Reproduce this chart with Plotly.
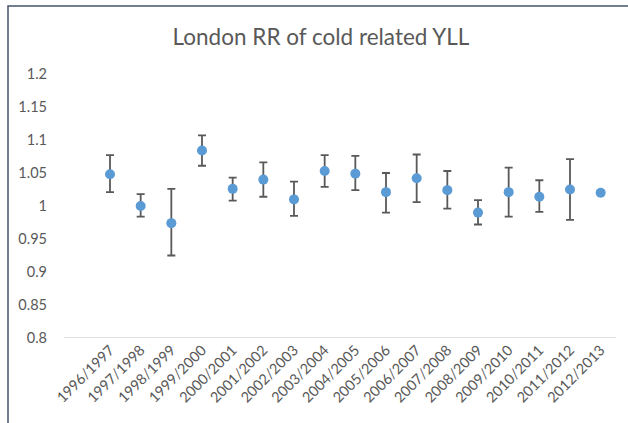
import plotly.graph_objects as go

categories = ["1996/1997", "1997/1998", "1998/1999", "1999/2000", "2000/2001",
              "2001/2002", "2002/2003", "2003/2004", "2004/2005", "2005/2006",
              "2006/2007", "2007/2008", "2008/2009", "2009/2010", "2010/2011",
              "2011/2012", "2012/2013"]
rr = [1.048, 1.000, 0.974, 1.084, 1.026, 1.040, 1.010, 1.053, 1.049, 1.021,
      1.042, 1.024, 0.990, 1.021, 1.014, 1.025, 1.020]
upper = [1.077, 1.018, 1.026, 1.107, 1.043, 1.066, 1.037, 1.077, 1.076, 1.050,
         1.078, 1.053, 1.009, 1.058, 1.039, 1.071, 1.020]
lower = [1.021, 0.984, 0.925, 1.061, 1.008, 1.014, 0.985, 1.029, 1.024, 0.990,
         1.006, 0.996, 0.972, 0.984, 0.991, 0.979, 1.020]
y_ticks = [0.8, 0.85, 0.9, 0.95, 1, 1.05, 1.1, 1.15, 1.2]
y_tick_text = ["0.8", "0.85", "0.9", "0.95", "1", "1.05", "1.1", "1.15", "1.2"]

err_plus = [u - v for u, v in zip(upper, rr)]
err_minus = [v - l for v, l in zip(rr, lower)]
x_idx = list(range(len(categories)))

W, H = 628, 423
L, R, T, B = 64, 12, 74, 85
pw, ph = W - L - R, H - T - B

fig = go.Figure()
fig.add_trace(go.Scatter(
    x=x_idx, y=rr, mode="markers",
    marker=dict(color="#5B9BD5", size=10, line=dict(width=0)),
    error_y=dict(type="data", symmetric=False, array=err_plus, arrayminus=err_minus,
                 color="#595959", thickness=1.8, width=4),
    showlegend=False,
))

font_family = "Lato, 'Open Sans', sans-serif"
fig.update_layout(
    width=W, height=H,
    margin=dict(l=L, r=R, t=T, b=B, autoexpand=False),
    paper_bgcolor="white", plot_bgcolor="white",
    font=dict(family=font_family, color="#595959", size=13),
    title=dict(text="London RR of cold related YLL", x=(321) / W, xanchor="center",
               y=1 - 37 / H, yanchor="middle",
               font=dict(size=22.5, color="#595959", family=font_family)),
    xaxis=dict(range=[-1.5, 16.5], tickmode="array", tickvals=x_idx, ticktext=categories,
               tickangle=-45, showgrid=False, zeroline=False, showline=False,
               ticks="", tickfont=dict(size=14.5, color="#595959"), automargin=False),
    yaxis=dict(range=[0.8, 1.2], tickmode="array", tickvals=y_ticks, ticktext=y_tick_text,
               showgrid=False, zeroline=False, showline=False, ticks="",
               tickfont=dict(size=14.5, color="#595959"), ticklabelstandoff=16,
               automargin=False),
)

# baseline at 0.8 spanning plot area
fig.add_shape(type="line", xref="paper", yref="y", x0=0, x1=1, y0=0.8, y1=0.8,
              line=dict(color="#D9D9D9", width=1.5))

# outer frame (extends beyond the image on the right and bottom)
fx0 = (8 - L) / pw
fy1 = 1 + (T - 6) / ph
fx1 = 1 + (W + 10 - (W - R)) / pw
fy0 = -(H + 10 - (H - B)) / ph
fig.add_shape(type="rect", xref="paper", yref="paper", x0=fx0, x1=fx1, y0=fy0, y1=fy1,
              line=dict(color="#44546A", width=1.5), layer="above")

fig.write_html("out.html", config={"displayModeBar": False},
               post_script="document.body.style.margin='0';document.body.style.padding='0';")
